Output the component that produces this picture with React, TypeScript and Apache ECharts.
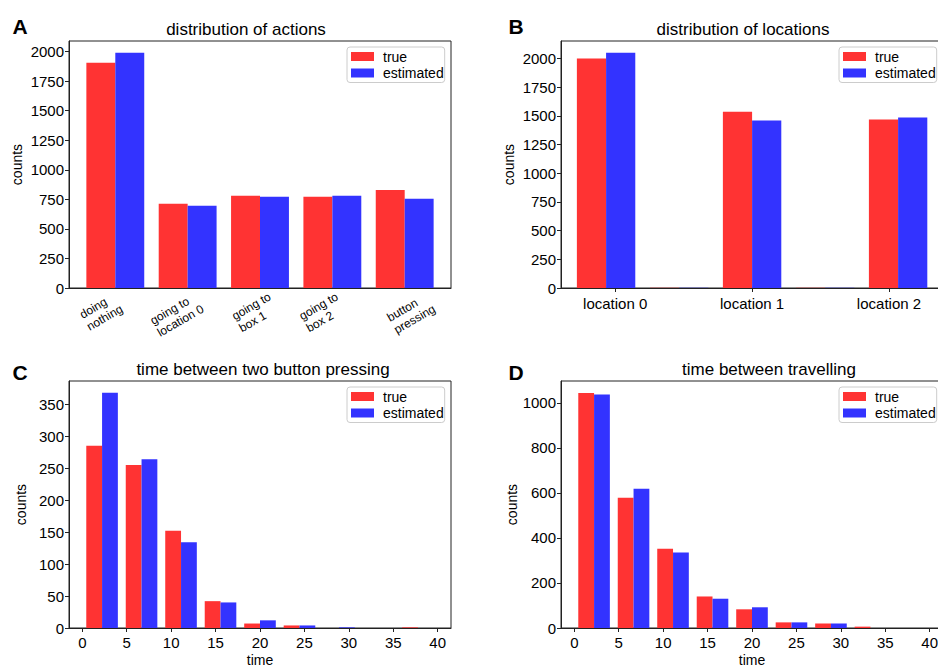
import React, { useEffect, useRef } from "react";
import * as echarts from "echarts";

const FONT = "'Liberation Sans', Arial, Helvetica, sans-serif";
const RED = "#ff3333";
const BLUE = "#3333ff";
const AXIS = "#222222";

// Panel A: distribution of actions
const actionLines = [["doing", "nothing"], ["going to", "location 0"], ["going to", "box 1"], ["going to", "box 2"], ["button", "pressing"]];
const actionLabelPos = [0.06, 1.18, 2.2, 3.13, 4.38];
const actionTrue = [1905, 712, 780, 771, 830];
const actionEst = [1990, 695, 771, 780, 754];
const countTicksA = [0, 250, 500, 750, 1000, 1250, 1500, 1750, 2000];

// Panel B: distribution of locations (histogram, 5 bins over [0, 2])
const locationLabels = ["location 0", "location 1", "location 2"];
const locationTickPos = [0.25, 1, 1.75];
const locationBinWidth = 0.4;
const locationTrue = [2000, 2, 1535, 2, 1468];
const locationEst = [2050, 2, 1460, 2, 1485];
const countTicksB = [0, 250, 500, 750, 1000, 1250, 1500, 1750, 2000];

// Panels C, D: histograms, 9 bins over [0, 40]
const timeBinWidth = 40 / 9;
const timeTicks = [0, 5, 10, 15, 20, 25, 30, 35, 40];
const pressTrue = [285, 255, 152, 42, 7, 4, 0, 0, 1];
const pressEst = [368, 264, 134, 40, 12, 4, 1, 0, 0];
const countTicksC = [0, 50, 100, 150, 200, 250, 300, 350];
const travelTrue = [1044, 578, 352, 140, 83, 25, 20, 6, 0];
const travelEst = [1037, 618, 335, 130, 92, 25, 20, 0, 0];
const countTicksD = [0, 200, 400, 600, 800, 1000];

const TICK_FS = 15;
const ROT_FS = 12;

function binRects(values: number[], start: number, binW: number, f0: number, f1: number) {
  return values.map((v, i) => [start + i * binW + f0 * binW, start + i * binW + f1 * binW, v]);
}

const renderItem = (_params: any, api: any) => {
  const a = api.coord([api.value(0), api.value(2)]);
  const b = api.coord([api.value(1), 0]);
  return {
    type: "rect",
    shape: { x: a[0], y: a[1], width: b[0] - a[0], height: b[1] - a[1] },
    style: { fill: api.visual("color") },
  };
};

function barSeries(idx: number, name: string, color: string, data: number[][]) {
  return {
    type: "custom",
    name,
    xAxisIndex: idx,
    yAxisIndex: idx,
    data,
    renderItem,
    itemStyle: { color },
    encode: { x: [0, 1], y: 2 },
    clip: true,
  };
}

const grids = [
  { left: 69, top: 41 },
  { left: 561, top: 41 },
  { left: 69, top: 381 },
  { left: 561, top: 381 },
];

function yAxis(idx: number, max: number, ticks: number[], nameGap: number) {
  return {
    type: "value",
    gridIndex: idx,
    min: 0,
    max,
    splitLine: { show: false },
    axisLine: { show: true, onZero: false, lineStyle: { color: AXIS, width: 1 } },
    axisTick: { show: true, length: 4, customValues: ticks, lineStyle: { color: AXIS } },
    axisLabel: {
      customValues: ticks,
      formatter: (v: number) => String(v),
      fontSize: TICK_FS,
      fontFamily: FONT,
      color: "#000",
      margin: 5,
    },
    name: "counts",
    nameLocation: "middle",
    nameGap,
    nameTextStyle: { fontSize: 14, fontFamily: FONT, color: "#000" },
  };
}

function timeXAxis(idx: number) {
  return {
    type: "value",
    gridIndex: idx,
    min: -1.5,
    max: 41.5,
    splitLine: { show: false },
    axisLine: { show: true, onZero: false, lineStyle: { color: AXIS } },
    axisTick: { show: true, length: 4, customValues: timeTicks, lineStyle: { color: AXIS } },
    axisLabel: {
      customValues: timeTicks,
      formatter: (v: number) => String(v),
      fontSize: TICK_FS,
      fontFamily: FONT,
      color: "#000",
      margin: 7,
    },
    name: "time",
    nameLocation: "middle",
    nameGap: 25,
    nameTextStyle: { fontSize: 14, fontFamily: FONT, color: "#000" },
  };
}

function legend(left: number, top: number) {
  return {
    orient: "vertical",
    left,
    top,
    icon: "rect",
    itemWidth: 23,
    itemHeight: 9,
    itemGap: 2.5,
    padding: [2.5, 1, 2.5, 4],
    borderColor: "#cccccc",
    borderWidth: 1,
    borderRadius: 3,
    selectedMode: false,
    textStyle: { fontSize: 14, fontFamily: FONT, color: "#000", padding: [0, 0, 0, 4] },
    data: ["true", "estimated"],
  };
}

function label(text: string, x: number, y: number, size: number, weight: string) {
  return {
    type: "text",
    x,
    y,
    style: {
      text,
      fontSize: size,
      fontFamily: FONT,
      fontWeight: weight,
      fill: "#000",
      align: "center",
      verticalAlign: "middle",
    },
  };
}

function measure(text: string, size: number) {
  const c = document.createElement("canvas").getContext("2d");
  if (!c) return text.length * size * 0.5;
  c.font = `${size}px ${FONT}`;
  return c.measureText(text).width;
}

export default function App() {
  const ref = useRef<HTMLDivElement>(null);
  useEffect(() => {
    if (!ref.current) return;
    const chart = echarts.init(ref.current, null, { renderer: "svg" });

    // left-aligned two-line rotated labels (each label gets a box as wide as its longest line)
    const rich: any = {};
    actionLines.forEach((lines, i) => {
      rich["l" + i] = {
        width: Math.ceil(Math.max(...lines.map((s) => measure(s, ROT_FS)))) + 1,
        align: "left",
        fontSize: ROT_FS,
        fontFamily: FONT,
        color: "#000",
        lineHeight: 14,
      };
    });

    const option: any = {
      animation: false,
      backgroundColor: "#ffffff",
      grid: grids.map((g) => ({
        left: g.left,
        top: g.top,
        width: 382,
        height: 247,
        show: true,
        borderColor: AXIS,
        borderWidth: 1,
        backgroundColor: "transparent",
        containLabel: false,
        outerBoundsMode: "none",
      })),
      xAxis: [
        {
          type: "value",
          gridIndex: 0,
          min: -0.64,
          max: 4.64,
          splitLine: { show: false },
          axisLine: { show: true, onZero: false, lineStyle: { color: AXIS } },
          axisTick: { show: false },
          axisLabel: {
            customValues: actionLabelPos,
            formatter: (v: number) => {
              const i = actionLabelPos.indexOf(v);
              return actionLines[i].map((s) => `{l${i}|${s}}`).join("\n");
            },
            rich,
            rotate: 30,
            fontSize: ROT_FS,
            fontFamily: FONT,
            color: "#000",
            margin: 13,
            lineHeight: 14,
          },
        },
        {
          type: "value",
          gridIndex: 1,
          min: -0.047,
          max: 2.046,
          splitLine: { show: false },
          axisLine: { show: true, onZero: false, lineStyle: { color: AXIS } },
          axisTick: { show: true, length: 4, customValues: locationTickPos, lineStyle: { color: AXIS } },
          axisLabel: {
            customValues: locationTickPos,
            formatter: (v: number) => locationLabels[locationTickPos.indexOf(v)],
            fontSize: TICK_FS,
            fontFamily: FONT,
            color: "#000",
            margin: 8,
          },
        },
        timeXAxis(2),
        timeXAxis(3),
      ],
      yAxis: [
        yAxis(0, 2089.5, countTicksA, 45),
        yAxis(1, 2152, countTicksB, 45),
        yAxis(2, 386.5, countTicksC, 41),
        yAxis(3, 1097, countTicksD, 41),
      ],
      legend: [legend(347, 47), legend(839, 47), legend(347, 387), legend(839, 387)],
      series: [
        barSeries(0, "true", RED, binRects(actionTrue, -0.5, 1, 0.1, 0.5)),
        barSeries(0, "estimated", BLUE, binRects(actionEst, -0.5, 1, 0.5, 0.9)),
        barSeries(1, "true", RED, binRects(locationTrue, 0, locationBinWidth, 0.1, 0.5)),
        barSeries(1, "estimated", BLUE, binRects(locationEst, 0, locationBinWidth, 0.5, 0.9)),
        barSeries(2, "true", RED, binRects(pressTrue, 0, timeBinWidth, 0.1, 0.5)),
        barSeries(2, "estimated", BLUE, binRects(pressEst, 0, timeBinWidth, 0.5, 0.9)),
        barSeries(3, "true", RED, binRects(travelTrue, 0, timeBinWidth, 0.1, 0.5)),
        barSeries(3, "estimated", BLUE, binRects(travelEst, 0, timeBinWidth, 0.5, 0.9)),
      ],
      graphic: [
        label("A", 20, 26, 21, "bold"),
        label("B", 516, 26, 21, "bold"),
        label("C", 20, 372, 21, "bold"),
        label("D", 516, 372, 21, "bold"),
        label("distribution of actions", 246, 29, 17, "normal"),
        label("distribution of locations", 743, 29, 17, "normal"),
        label("time between two button pressing", 263, 369, 17, "normal"),
        label("time between travelling", 769, 369, 17, "normal"),
      ],
    };
    chart.setOption(option);
    return () => chart.dispose();
  }, []);
  return (
    <div
      ref={ref}
      style={{ position: "fixed", left: 0, top: 0, width: 938, height: 667, background: "#fff" }}
    />
  );
}
